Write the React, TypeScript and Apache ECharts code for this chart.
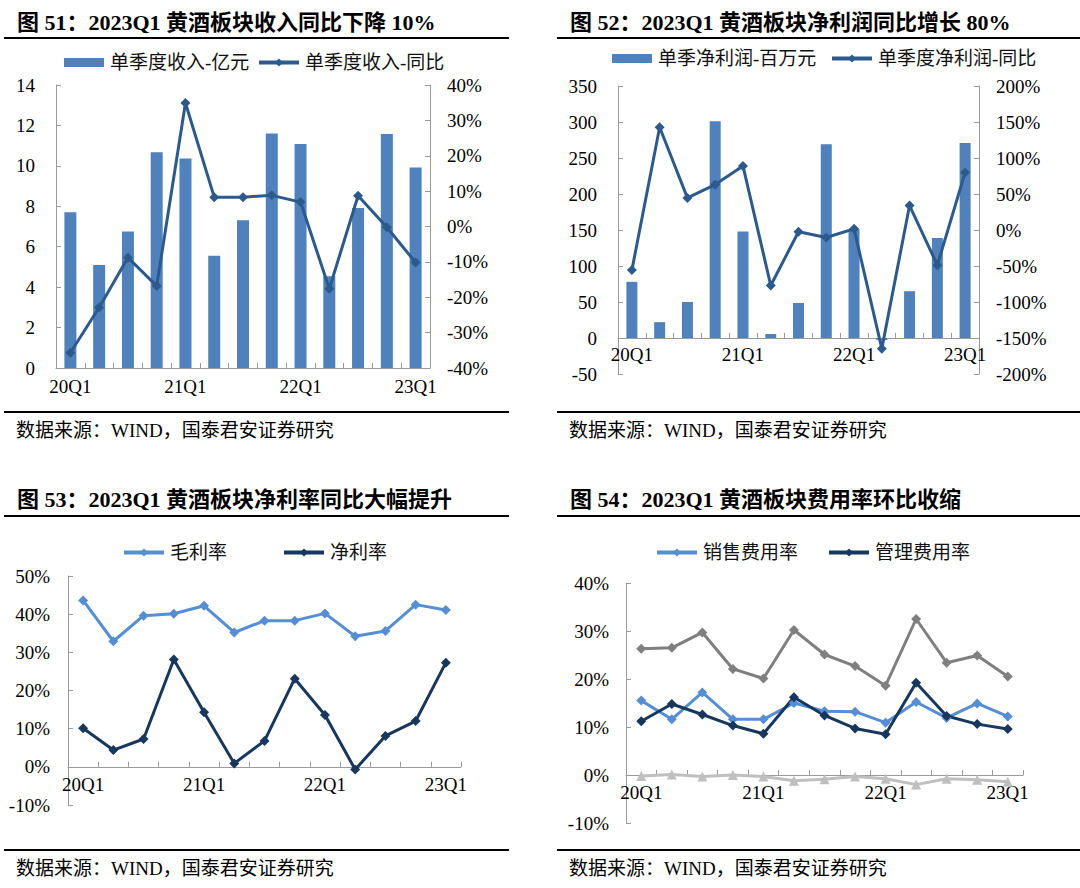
import React, { useEffect, useRef } from "react";
import * as echarts from "echarts";

const categories = ["20Q1", "20Q2", "20Q3", "20Q4", "21Q1", "21Q2", "21Q3", "21Q4", "22Q1", "22Q2", "22Q3", "22Q4", "23Q1"];

// Chart 51
const revenue = [7.7, 5.1, 6.75, 10.67, 10.37, 5.55, 7.31, 11.6, 11.08, 4.54, 7.92, 11.57, 9.92];
const revenueYoY = [-35.7, -22.9, -8.8, -16.8, 34.9, 8.3, 8.3, 8.8, 6.9, -17.6, 8.7, -0.2, -10.2];
// Chart 52
const netProfit = [78, 22, 50, 301, 148, 5.5, 48.6, 269, 151, -3, 65, 139, 271];
const netProfitYoY = [-55.7, 142.7, 44.6, 63.1, 89, -77, -2.5, -10.4, 1.6, -164.8, 34, -48.8, 79.8];
// Chart 53
const grossMargin = [43.6, 32.9, 39.6, 40.1, 42.2, 35.2, 38.3, 38.3, 40.2, 34.2, 35.6, 42.5, 41.1];
const netMargin = [10.1, 4.4, 7.3, 28.1, 14.3, 0.9, 6.8, 23.1, 13.6, -0.7, 8.1, 12.0, 27.3];
// Chart 54
const periodExpense = [26.3, 26.5, 29.7, 22.1, 20.1, 30.2, 25.1, 22.7, 18.6, 32.5, 23.4, 24.9, 20.5];
const salesExpense = [15.5, 11.6, 17.2, 11.6, 11.6, 15.0, 13.3, 13.2, 10.9, 15.2, 11.9, 14.9, 12.2];
const adminExpense = [11.2, 14.8, 12.6, 10.3, 8.6, 16.2, 12.4, 9.7, 8.5, 19.2, 12.3, 10.6, 9.6];
const financeExpense = [-0.2, 0.1, -0.3, 0, -0.3, -1.2, -0.9, -0.3, -0.8, -2.0, -0.8, -1.0, -1.4];

const titles = [
  "图 51：2023Q1 黄酒板块收入同比下降 10%",
  "图 52：2023Q1 黄酒板块净利润同比增长 80%",
  "图 53：2023Q1 黄酒板块净利率同比大幅提升",
  "图 54：2023Q1 黄酒板块费用率环比收缩",
];
const sourceText = "数据来源：WIND，国泰君安证券研究";

const FONT = "'Liberation Serif', 'Noto Sans CJK SC', serif";
const AXIS_COLOR = "#9a9a9a";
const BAR_COLOR = "#4F81BD";
const LINE_DARK_BLUE = "#2C5A8E";
const LIGHT_BLUE = "#558ED5";
const NAVY = "#17375E";
const GRAY = "#7F7F7F";
const LIGHT_GRAY = "#BFBFBF";

const labelStyle = { color: "#000", fontSize: 19, fontFamily: FONT };

function xAxis(gridIndex: number, margin: number, offset = 0) {
  return {
    type: "category",
    gridIndex,
    data: categories,
    boundaryGap: true,
    offset,
    axisLine: { show: true, onZero: false, lineStyle: { color: AXIS_COLOR, width: 1 } },
    axisTick: { show: true, inside: true, length: 5, interval: 0, lineStyle: { color: AXIS_COLOR } },
    axisLabel: { ...labelStyle, interval: 3, margin },
    splitLine: { show: false },
  };
}

function yAxis(gridIndex: number, min: number, max: number, interval: number, pos: string, margin: number, pct: boolean) {
  return {
    type: "value",
    gridIndex,
    min,
    max,
    interval,
    position: pos,
    axisLine: { show: true, lineStyle: { color: AXIS_COLOR, width: 1 } },
    axisTick: { show: true, inside: true, length: 5, lineStyle: { color: AXIS_COLOR } },
    axisLabel: { ...labelStyle, margin, formatter: pct ? "{value}%" : "{value}" },
    splitLine: { show: false },
  };
}

function legend(name: string, left: number, top: number, bar: boolean, color: string) {
  return {
    data: [bar ? { name, icon: "rect" } : name],
    left,
    top,
    itemWidth: 40,
    itemHeight: bar ? 9 : 10,
    itemGap: 10,
    selectedMode: false,
    padding: 0,
    lineStyle: bar ? undefined : { width: 4, color },
    textStyle: { color: "#111", fontSize: 19, fontFamily: FONT, padding: [0, 0, 0, 1] },
  };
}

function lineSeries(name: string, data: number[], xi: number, yi: number, color: string, symbol = "diamond") {
  return {
    name,
    type: "line",
    xAxisIndex: xi,
    yAxisIndex: yi,
    data,
    symbol,
    symbolSize: 10,
    lineStyle: { color, width: 3 },
    itemStyle: { color },
    z: 3,
  };
}

function textEl(text: string, x: number, y: number, size: number, bold: boolean) {
  return {
    type: "text",
    x,
    y,
    style: {
      text,
      fontSize: size,
      fontWeight: bold ? "bold" : "normal",
      fontFamily: FONT,
      fill: "#000",
      textVerticalAlign: "middle",
      verticalAlign: "middle",
    },
  };
}

function ruleEl(x1: number, x2: number, y: number) {
  return {
    type: "line",
    shape: { x1, y1: y, x2, y2: y },
    style: { stroke: "#000", lineWidth: 2 },
  };
}

export default function App() {
  const ref = useRef<HTMLDivElement>(null);
  useEffect(() => {
    if (!ref.current) return;
    const chart = echarts.init(ref.current, undefined, { renderer: "svg" });
    const option = {
      animation: false,
      backgroundColor: "#fff",
      textStyle: { fontFamily: FONT },
      grid: [
        { left: 56, top: 85, width: 374, height: 283 },
        { left: 618, top: 86, width: 361, height: 288 },
        { left: 68, top: 576, width: 393, height: 229 },
        { left: 626, top: 583, width: 397, height: 240 },
      ],
      xAxis: [xAxis(0, 9), xAxis(1, 7, -36), xAxis(2, 8, -38.2), xAxis(3, 8, -48)],
      yAxis: [
        yAxis(0, 0, 14, 2, "left", 21, false),
        yAxis(0, -40, 40, 10, "right", 17, true),
        yAxis(1, -50, 350, 50, "left", 21, false),
        yAxis(1, -200, 200, 50, "right", 17, true),
        yAxis(2, -10, 50, 10, "left", 18, true),
        yAxis(3, -10, 40, 10, "left", 17, true),
      ],
      legend: [
        legend("单季度收入-亿元", 64, 53, true, BAR_COLOR),
        legend("单季度收入-同比", 257, 53, false, LINE_DARK_BLUE),
        legend("单季净利润-百万元", 612, 49, true, BAR_COLOR),
        legend("单季度净利润-同比", 830, 49, false, LINE_DARK_BLUE),
        legend("毛利率", 122, 543, false, LIGHT_BLUE),
        legend("净利率", 282, 543, false, NAVY),
        legend("销售费用率", 655, 543, false, LIGHT_BLUE),
        legend("管理费用率", 827, 543, false, NAVY),
      ],
      series: [
        { name: "单季度收入-亿元", type: "bar", xAxisIndex: 0, yAxisIndex: 0, data: revenue, barWidth: 12, itemStyle: { color: BAR_COLOR } },
        lineSeries("单季度收入-同比", revenueYoY, 0, 1, LINE_DARK_BLUE),
        { name: "单季净利润-百万元", type: "bar", xAxisIndex: 1, yAxisIndex: 2, data: netProfit, barWidth: 11, itemStyle: { color: BAR_COLOR } },
        lineSeries("单季度净利润-同比", netProfitYoY, 1, 3, LINE_DARK_BLUE),
        lineSeries("毛利率", grossMargin, 2, 4, LIGHT_BLUE),
        lineSeries("净利率", netMargin, 2, 4, NAVY),
        lineSeries("期间费用率", periodExpense, 3, 5, GRAY),
        lineSeries("销售费用率", salesExpense, 3, 5, LIGHT_BLUE),
        lineSeries("管理费用率", adminExpense, 3, 5, NAVY),
        lineSeries("财务费用率", financeExpense, 3, 5, LIGHT_GRAY, "triangle"),
      ],
      graphic: [
        textEl(titles[0], 17, 22, 22, true),
        textEl(titles[1], 570, 22, 22, true),
        textEl(titles[2], 17, 499, 22, true),
        textEl(titles[3], 570, 499, 22, true),
        ruleEl(4, 509, 38),
        ruleEl(557, 1080, 38),
        ruleEl(4, 509, 516),
        ruleEl(557, 1080, 516),
        ruleEl(4, 509, 412),
        ruleEl(557, 1080, 412),
        ruleEl(4, 509, 850),
        ruleEl(557, 1080, 850),
        textEl(sourceText, 16, 430, 19, false),
        textEl(sourceText, 569, 430, 19, false),
        textEl(sourceText, 16, 868, 19, false),
        textEl(sourceText, 569, 868, 19, false),
      ],
    };
    chart.setOption(option as any);
    return () => chart.dispose();
  }, []);
  return <div ref={ref} style={{ position: "absolute", left: 0, top: 0, width: 1080, height: 888 }} />;
}
